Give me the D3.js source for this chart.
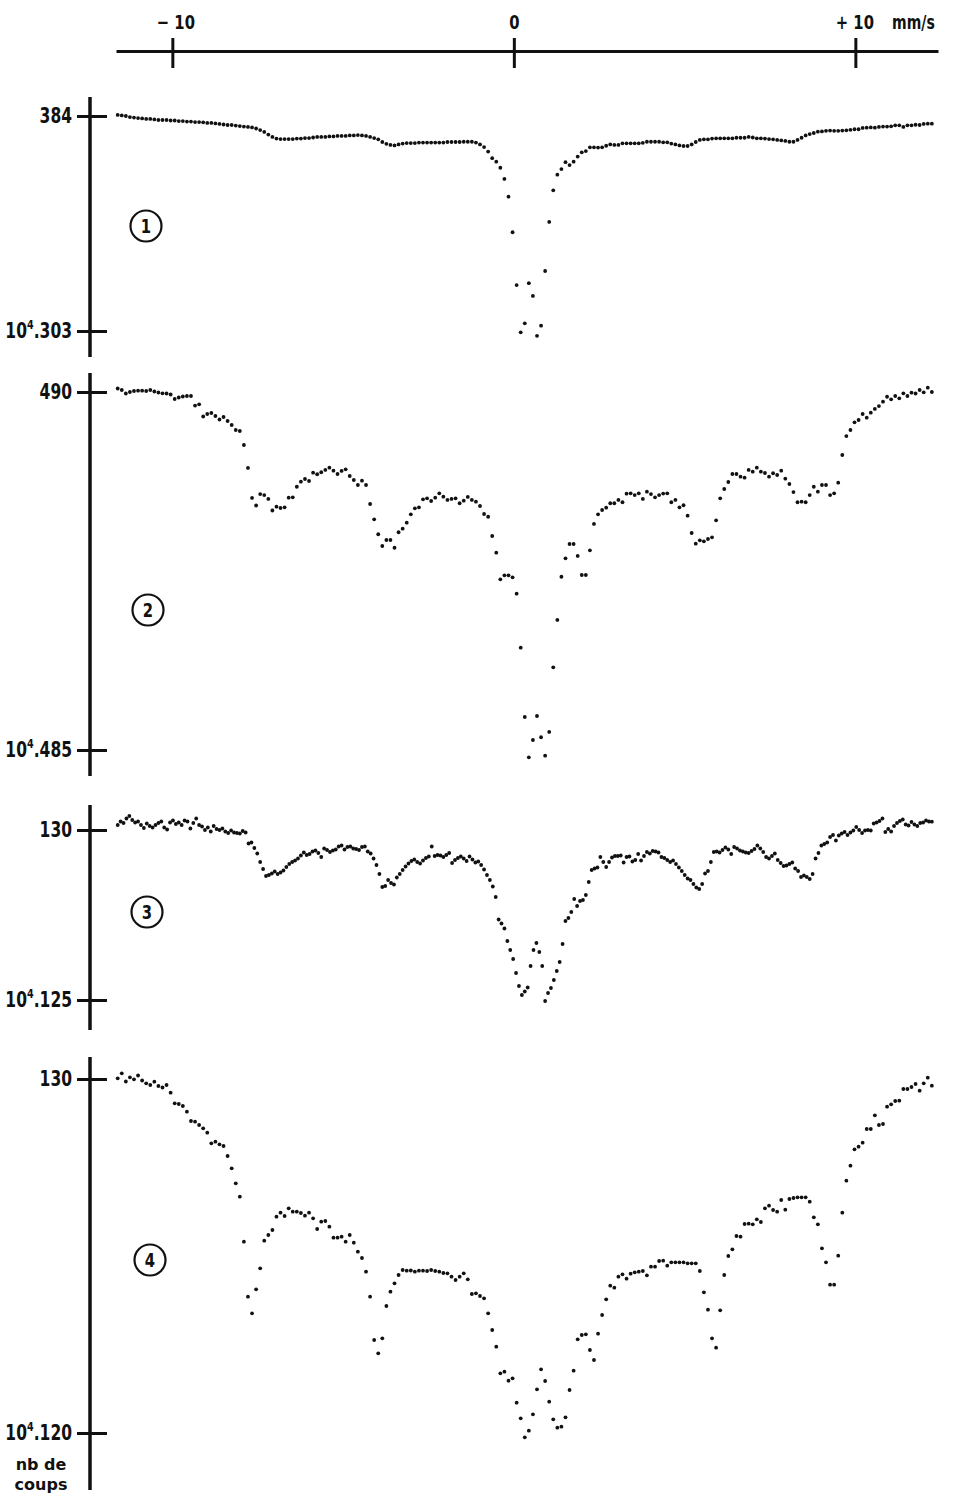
<!DOCTYPE html>
<html>
<head>
<meta charset="utf-8">
<script src="https://cdn.jsdelivr.net/npm/d3@7"></script>
<style>
  body { margin: 0; background: #fff; }
  .num { font-family: "DejaVu Sans", sans-serif; font-weight: bold; fill: #111; }
  .round { font-family: "DejaVu Sans", sans-serif; font-weight: bold; fill: #111; }
</style>
</head>
<body>
<div id="chart"></div>
<script>
'use strict';

// velocity scan (mm/s) of the first and last channel
const velocityRange = [-11.6, 12.24];

// top axis
const velTicks = [-10, 0, 10];
const velTickLabels = ['\u2212 10', '0', '+ 10'];

// count axes, in 10^4 counts
const topTicks = [384, 490, 130, 130];
const bottomTicks = [303, 485, 125, 120];
const panelNames = ['1', '2', '3', '4'];

// spectrum 1
const counts1 = [
  384.4, 384.2, 384.0, 383.6, 383.4, 383.2, 383.1, 382.9, 382.9, 382.7,
  382.5, 382.5, 382.5, 382.3, 382.3, 382.1, 382.1, 381.9, 381.9, 381.7,
  381.7, 381.6, 381.4, 381.4, 381.2, 381.0, 380.8, 380.6, 380.6, 380.4,
  380.2, 380.0, 379.9, 379.7, 379.3, 378.7, 378.0, 377.0, 376.1, 375.5,
  375.3, 375.3, 375.3, 375.3, 375.5, 375.5, 375.7, 375.7, 375.9, 376.1,
  376.1, 376.1, 376.3, 376.3, 376.5, 376.5, 376.5, 376.7, 376.7, 376.8,
  376.7, 376.5, 376.1, 375.7, 375.2, 374.2, 373.5, 373.1, 372.9, 373.3,
  373.6, 373.8, 373.8, 373.8, 374.0, 374.0, 374.0, 374.0, 374.0, 374.0,
  374.0, 374.2, 374.2, 374.2, 374.2, 374.3, 374.3, 374.3, 374.0, 373.3,
  372.3, 370.6, 368.1, 366.8, 364.5, 360.3, 353.6, 340.2, 320.3, 302.5,
  305.9, 321.0, 316.2, 301.2, 305.0, 325.6, 344.1, 356.0, 361.9, 364.0,
  366.6, 365.5, 366.8, 368.7, 370.3, 370.8, 372.2, 372.2, 372.1, 372.2,
  372.8, 373.3, 373.1, 373.1, 373.7, 373.7, 373.7, 373.7, 373.7, 373.9,
  374.3, 374.3, 374.3, 374.3, 374.1, 374.1, 373.6, 373.3, 372.9, 372.7,
  372.7, 373.3, 374.2, 375.0, 375.2, 375.2, 375.5, 375.6, 375.6, 375.6,
  375.6, 375.6, 375.8, 375.8, 375.8, 376.1, 375.9, 375.6, 375.6, 375.5,
  375.3, 375.2, 375.0, 374.8, 374.6, 374.3, 374.3, 375.0, 375.8, 376.7,
  377.2, 377.6, 378.1, 378.2, 378.4, 378.5, 378.4, 378.4, 378.5, 378.6,
  378.8, 379.0, 379.0, 379.5, 379.6, 379.7, 379.6, 379.9, 380.0, 380.0,
  380.1, 380.5, 380.5, 379.9, 380.5, 380.5, 380.7, 380.6, 381.0, 381.1,
  381.1
];

// spectrum 2
const counts2 = [
  490.049, 490.028, 489.979, 490.000, 490.014, 490.018, 490.018, 490.014, 490.028, 490.007,
  489.993, 489.982, 489.979, 489.965, 489.902, 489.923, 489.937, 489.944, 489.944, 489.811,
  489.828, 489.658, 489.693, 489.707, 489.665, 489.616, 489.651, 489.595, 489.539, 489.469,
  489.455, 489.260, 488.939, 488.520, 488.415, 488.575, 488.561, 488.506, 488.345, 488.398,
  488.380, 488.390, 488.524, 488.529, 488.677, 488.747, 488.785, 488.757, 488.873, 488.851,
  488.879, 488.911, 488.943, 488.901, 488.855, 488.897, 488.920, 488.827, 488.771, 488.701,
  488.761, 488.701, 488.436, 488.222, 488.013, 487.849, 487.933, 487.933, 487.825, 488.041,
  488.091, 488.175, 488.292, 488.376, 488.390, 488.501, 488.515, 488.478, 488.524, 488.585,
  488.538, 488.492, 488.506, 488.515, 488.446, 488.482, 488.534, 488.492, 488.468, 488.408,
  488.296, 488.258, 487.989, 487.756, 487.384, 487.440, 487.440, 487.412, 487.183, 486.429,
  485.461, 484.898, 485.140, 485.475, 485.178, 484.921, 485.252, 486.155, 486.816, 487.420,
  487.677, 487.877, 487.877, 487.710, 487.444, 487.444, 487.789, 488.157, 488.292, 488.352,
  488.384, 488.446, 488.446, 488.492, 488.460, 488.580, 488.585, 488.561, 488.585, 488.506,
  488.608, 488.575, 488.529, 488.561, 488.582, 488.585, 488.460, 488.492, 488.390, 488.418,
  488.272, 488.031, 487.881, 487.929, 487.915, 487.947, 487.971, 488.208, 488.515, 488.645,
  488.743, 488.855, 488.855, 488.817, 488.803, 488.911, 488.887, 488.943, 488.887, 488.869,
  488.817, 488.865, 488.841, 488.901, 488.789, 488.715, 488.603, 488.460, 488.468, 488.460,
  488.561, 488.677, 488.608, 488.701, 488.701, 488.561, 488.585, 488.733, 489.120, 489.385,
  489.469, 489.577, 489.609, 489.693, 489.641, 489.711, 489.763, 489.804, 489.865, 489.934,
  489.898, 489.944, 489.912, 489.982, 489.944, 489.990, 489.979, 490.028, 489.996, 490.060,
  490.000
];

// spectrum 3 (finer channel step)
const counts3 = [
  130.147, 130.250, 130.206, 130.338, 130.412, 130.294, 130.221, 130.250, 130.147, 130.059,
  130.191, 130.118, 130.074, 130.147, 130.206, 130.250, 130.074, 130.015, 130.221, 130.279,
  130.176, 130.221, 130.147, 130.279, 130.250, 130.044, 130.206, 130.338, 130.147, 130.103,
  130.000, 130.074, 129.956, 130.118, 130.029, 130.000, 130.044, 129.956, 129.912, 129.985,
  129.926, 129.912, 129.897, 129.971, 129.926, 129.603, 129.632, 129.471, 129.309, 129.059,
  128.853, 128.647, 128.676, 128.721, 128.779, 128.706, 128.750, 128.809, 128.912, 129.000,
  129.059, 129.103, 129.162, 129.250, 129.338, 129.265, 129.294, 129.368, 129.397, 129.324,
  129.206, 129.456, 129.412, 129.353, 129.397, 129.426, 129.515, 129.544, 129.426, 129.500,
  129.515, 129.456, 129.441, 129.412, 129.500, 129.515, 129.368, 129.309, 129.162, 128.971,
  128.706, 128.324, 128.353, 128.529, 128.441, 128.397, 128.603, 128.706, 128.824, 128.926,
  129.015, 129.088, 129.132, 129.059, 129.015, 129.103, 129.176, 129.221, 129.515, 129.235,
  129.265, 129.250, 129.206, 129.265, 129.324, 129.029, 129.118, 129.176, 129.221, 129.162,
  129.088, 129.221, 129.132, 129.044, 129.074, 128.971, 128.838, 128.676, 128.529, 128.338,
  128.029, 127.368, 127.250, 127.103, 126.735, 126.471, 126.206, 125.794, 125.412, 125.147,
  125.250, 125.368, 126.000, 126.471, 126.676, 126.412, 126.000, 124.971, 125.206, 125.353,
  125.588, 125.853, 126.118, 126.647, 127.324, 127.412, 127.588, 127.971, 127.765, 127.912,
  127.941, 128.088, 128.471, 128.824, 128.868, 128.897, 129.206, 129.059, 128.912, 129.059,
  129.191, 129.235, 129.235, 129.250, 129.044, 129.206, 129.221, 129.074, 129.118, 129.294,
  129.103, 129.235, 129.353, 129.309, 129.382, 129.368, 129.338, 129.206, 129.176, 129.118,
  129.059, 129.103, 129.000, 128.897, 128.794, 128.676, 128.574, 128.529, 128.412, 128.309,
  128.265, 128.412, 128.721, 128.794, 129.059, 129.353, 129.368, 129.338, 129.412, 129.485,
  129.426, 129.294, 129.500, 129.456, 129.397, 129.368, 129.338, 129.324, 129.382, 129.441,
  129.544, 129.456, 129.353, 129.206, 129.162, 129.235, 129.309, 129.118, 129.029, 128.941,
  128.956, 129.000, 129.044, 128.868, 128.794, 128.618, 128.662, 128.618, 128.559, 128.706,
  129.162, 129.324, 129.544, 129.588, 129.632, 129.794, 129.853, 129.691, 129.838, 129.897,
  129.941, 129.853, 129.926, 129.985, 130.088, 130.000, 129.912, 129.985, 130.000, 129.985,
  130.191, 130.221, 130.265, 130.338, 129.941, 130.029, 129.956, 130.118, 130.206, 130.265,
  130.309, 130.162, 130.132, 130.235, 130.162, 130.118, 130.206, 130.221, 130.279, 130.250,
  130.244
];

// spectrum 4
const counts4 = [
  130.020, 130.161, 129.929, 130.048, 129.992, 130.099, 129.958, 129.879, 129.831, 129.924,
  129.802, 129.760, 129.831, 129.613, 129.314, 129.294, 129.237, 129.076, 128.814, 128.794,
  128.701, 128.607, 128.483, 128.184, 128.229, 128.155, 128.107, 127.825, 127.477, 127.054,
  126.675, 125.404, 123.850, 123.381, 124.059, 124.653, 125.432, 125.593, 125.734, 126.110,
  126.223, 126.130, 126.347, 126.251, 126.251, 126.215, 126.138, 126.223, 126.065, 125.763,
  125.969, 125.989, 125.828, 125.517, 125.517, 125.545, 125.404, 125.593, 125.376, 125.121,
  124.944, 124.556, 123.850, 122.627, 122.251, 122.675, 123.588, 123.992, 124.229, 124.463,
  124.605, 124.585, 124.590, 124.556, 124.585, 124.585, 124.576, 124.605, 124.576, 124.556,
  124.520, 124.511, 124.415, 124.322, 124.415, 124.511, 124.342, 123.927, 123.946, 123.870,
  123.805, 123.381, 122.910, 122.438, 121.686, 121.732, 121.477, 121.545, 120.856, 120.415,
  119.879, 120.065, 120.528, 121.234, 121.799, 121.469, 120.884, 120.387, 120.150, 120.178,
  120.443, 121.215, 121.760, 122.647, 122.768, 122.788, 122.345, 122.062, 122.805, 123.333,
  123.777, 124.161, 124.104, 124.415, 124.483, 124.359, 124.500, 124.539, 124.556, 124.576,
  124.455, 124.698, 124.698, 124.859, 124.867, 124.726, 124.822, 124.822, 124.822, 124.822,
  124.794, 124.794, 124.794, 124.576, 123.975, 123.483, 122.675, 122.410, 123.466, 124.463,
  125.000, 125.189, 125.565, 125.545, 125.904, 125.912, 125.895, 126.037, 125.960, 126.347,
  126.421, 126.299, 126.251, 126.582, 126.308, 126.610, 126.638, 126.658, 126.658, 126.658,
  126.534, 126.093, 125.895, 125.218, 124.822, 124.189, 124.189, 125.008, 126.223, 127.127,
  127.551, 128.014, 128.088, 128.201, 128.588, 128.588, 128.975, 128.701, 128.729, 129.218,
  129.285, 129.379, 129.387, 129.718, 129.718, 129.774, 129.859, 129.669, 129.879, 130.037,
  129.811
];

const spectra = [counts1, counts2, counts3, counts4];

// ---------- layout ----------
const W = 956, H = 1500;
const axisX = 90;
const squeeze = 0.74;   // narrow look of the printed digits
const layout = [
  { yTop: 116,  yBottom: 331,  lineTop: 97,   lineBottom: 357,  badge: [146, 226] },
  { yTop: 392,  yBottom: 750,  lineTop: 373,  lineBottom: 776,  badge: [148, 610] },
  { yTop: 830,  yBottom: 1000, lineTop: 805,  lineBottom: 1030, badge: [147, 912] },
  { yTop: 1079, yBottom: 1433, lineTop: 1057, lineBottom: 1490, badge: [150, 1260] }
];

const svg = d3.select('#chart').append('svg')
  .attr('width', W)
  .attr('height', H);

// velocity scale, axis line runs from x=116 to x=938
const x = d3.scaleLinear().domain([-11.65, 12.42]).range([116, 938]);

const topAxis = svg.append('g')
  .attr('transform', 'translate(0,51)')
  .call(d3.axisTop(x)
    .tickValues(velTicks)
    .tickFormat((d, i) => velTickLabels[i])
    .tickSizeInner(13)
    .tickSizeOuter(0)
    .tickPadding(9));

topAxis.select('.domain').attr('stroke', '#111').attr('stroke-width', 3);
topAxis.selectAll('.tick line')
  .attr('stroke', '#111')
  .attr('stroke-width', 3)
  .attr('y1', 17);
topAxis.selectAll('.tick text')
  .attr('class', 'num')
  .attr('font-size', 20)
  .attr('transform', `scale(${squeeze},1)`)
  .attr('x', d => (d < 0 ? 3 : d > 0 ? -1 : 0) / squeeze);

svg.append('text')
  .attr('class', 'num')
  .attr('x', 892 / squeeze)
  .attr('y', 29)
  .attr('font-size', 19)
  .attr('transform', `scale(${squeeze},1)`)
  .text('mm/s');

spectra.forEach((counts, p) => {
  const L = layout[p];
  const y = d3.scaleLinear()
    .domain([bottomTicks[p], topTicks[p]])
    .range([L.yBottom, L.yTop]);

  // channel index -> velocity
  const chan = d3.scaleLinear()
    .domain([0, counts.length - 1])
    .range(velocityRange);

  // vertical axis segment
  svg.append('line')
    .attr('x1', axisX).attr('x2', axisX)
    .attr('y1', L.lineTop).attr('y2', L.lineBottom)
    .attr('stroke', '#111')
    .attr('stroke-width', 3.5);

  const ax = svg.append('g')
    .attr('transform', `translate(${axisX},0)`)
    .call(d3.axisLeft(y)
      .tickValues([topTicks[p], bottomTicks[p]])
      .tickFormat(d => String(d))
      .tickSizeInner(13)
      .tickSizeOuter(0)
      .tickPadding(5));

  ax.select('.domain').remove();
  ax.selectAll('.tick line')
    .attr('stroke', '#111')
    .attr('stroke-width', 3)
    .attr('x1', 17);

  ax.selectAll('.tick text')
    .attr('class', 'num')
    .attr('font-size', 21)
    .attr('transform', `scale(${squeeze},1)`)
    .attr('x', -18 / squeeze)
    .each(function (d) {
      if (d !== bottomTicks[p]) return;
      const t = d3.select(this).text('');
      t.append('tspan').text('10');
      t.append('tspan').attr('dy', -9).attr('font-size', 13).text('4');
      t.append('tspan').attr('dy', 9).text('.' + d);
    });

  // data points
  svg.append('g')
    .selectAll('circle')
    .data(counts)
    .enter()
    .append('circle')
    .attr('cx', (d, i) => x(chan(i)))
    .attr('cy', d => y(d))
    .attr('r', 1.9)
    .attr('fill', '#111');

  // circled spectrum number
  const b = svg.append('g').attr('transform', `translate(${L.badge[0]},${L.badge[1]})`);
  b.append('circle')
    .attr('r', 15.5)
    .attr('fill', 'none')
    .attr('stroke', '#111')
    .attr('stroke-width', 2.2);
  b.append('text')
    .attr('class', 'num')
    .attr('text-anchor', 'middle')
    .attr('dy', '0.36em')
    .attr('font-size', 20)
    .attr('transform', `scale(${squeeze},1)`)
    .text(panelNames[p]);
});

svg.append('text')
  .attr('class', 'round')
  .attr('text-anchor', 'middle')
  .attr('x', 41)
  .attr('y', 1470)
  .attr('font-size', 16)
  .text('nb de');
svg.append('text')
  .attr('class', 'round')
  .attr('text-anchor', 'middle')
  .attr('x', 41)
  .attr('y', 1490)
  .attr('font-size', 16)
  .text('coups');
</script>
</body>
</html>
